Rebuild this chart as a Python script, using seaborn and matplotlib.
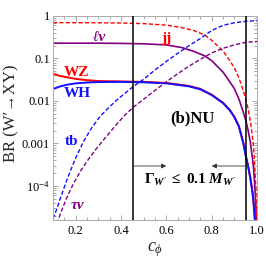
import matplotlib
matplotlib.use("Agg")
import matplotlib.pyplot as plt
from matplotlib.ticker import MultipleLocator, LogLocator, NullFormatter
import seaborn as sns

# branching ratios (x = c_phi)
c_light = [0.10, 0.20, 0.30, 0.40, 0.50, 0.60, 0.67, 0.72, 0.77, 0.80, 0.85, 0.88,
           0.90, 0.92, 0.94, 0.95, 0.96, 0.97, 0.98, 0.985, 0.99, 0.995, 0.999]
br_jj = [0.697, 0.695, 0.692, 0.684, 0.661, 0.610, 0.531, 0.457, 0.355, 0.269, 0.151, 0.0891,
         0.0603, 0.0355, 0.0170, 0.0112, 0.00676, 0.00355, 0.00141, 7.94e-4, 3.16e-4, 8.91e-5, 6.3e-6]
br_lnu = [0.2291, 0.2291, 0.2291, 0.2265, 0.2213, 0.2089, 0.1799, 0.1479, 0.1148, 0.0891, 0.0479, 0.0282,
          0.0195, 0.0112, 0.00537, 0.00355, 0.00214, 0.00112, 4.47e-4, 2.51e-4, 1.05e-4, 3.16e-5, 2.5e-6]

c_boson = [0.10, 0.13, 0.16, 0.20, 0.25, 0.30, 0.40, 0.50, 0.60, 0.70, 0.75, 0.80, 0.85,
           0.88, 0.90, 0.92, 0.94, 0.95, 0.96, 0.97, 0.98, 0.985, 0.99, 0.995, 0.999]
br_wz = [0.0437, 0.0389, 0.0363, 0.0331, 0.0309, 0.0295, 0.0288, 0.0282, 0.0266, 0.0226, 0.0193, 0.0141, 0.00912,
         0.00617, 0.00427, 0.00257, 0.00102, 5.37e-4, 3.09e-4, 1.62e-4, 7.24e-5, 4.07e-5, 1.82e-5, 5.1e-6, 3.2e-7]
br_wh = [0.0191, 0.0219, 0.0240, 0.0260, 0.0272, 0.0279, 0.0282, 0.0275, 0.0260, 0.0221, 0.0188, 0.0138, 0.00891,
         0.00603, 0.00417, 0.00251, 0.00100, 5.25e-4, 3.02e-4, 1.58e-4, 7.08e-5, 3.98e-5, 1.78e-5, 5.0e-6, 3.2e-7]

c_tb = [0.10, 0.116, 0.13, 0.145, 0.16, 0.18, 0.205, 0.235, 0.27, 0.307, 0.345, 0.381, 0.42,
        0.454, 0.50, 0.55, 0.60, 0.65, 0.70, 0.75, 0.80, 0.85, 0.90, 0.95, 1.00]
br_tb = [1.7e-5, 2.8e-5, 4.7e-5, 7.9e-5, 1.32e-4, 2.5e-4, 5.2e-4, 1.12e-3, 2.3e-3, 4.3e-3, 6.9e-3, 0.0105, 0.0155,
         0.0219, 0.0324, 0.0537, 0.0851, 0.132, 0.200, 0.295, 0.457, 0.603, 0.692, 0.750, 0.776]

c_taunu = [0.118, 0.135, 0.15, 0.165, 0.19, 0.22, 0.25, 0.29, 0.33, 0.38, 0.42, 0.454,
           0.50, 0.55, 0.60, 0.65, 0.70, 0.75, 0.80, 0.85, 0.90, 0.95, 1.00]
br_taunu = [1.3e-5, 2.4e-5, 3.8e-5, 6.0e-5, 1.12e-4, 2.19e-4, 3.8e-4, 7.4e-4, 1.35e-3, 2.8e-3, 4.8e-3, 7.1e-3,
            0.011, 0.0178, 0.0282, 0.0437, 0.066, 0.0955, 0.135, 0.174, 0.209, 0.240, 0.251]

# Gamma_W' <= 0.1 M_W' window
width_limits = [0.455, 0.95]
arrow_tips = [0.60, 0.80]
arrow_level = 2.95e-4

x_ticks = [0.2, 0.4, 0.6, 0.8, 1.0]
x_tick_labels = ['0.2', '0.4', '0.6', '0.8', '1.0']
y_ticks = [1e-4, 1e-3, 1e-2, 1e-1, 1]
y_tick_labels = [r'$10^{-4}$', '0.001', '0.01', '0.1', '1']

RED = '#ff0000'
BLUE = '#1010ff'
PURPLE = '#800080'
DASH = (0, (3, 1.6))

sns.set_style('ticks')
plt.rcParams['font.family'] = ['Liberation Serif', 'DejaVu Serif']
plt.rcParams['mathtext.fontset'] = 'custom'
plt.rcParams['mathtext.rm'] = 'Liberation Serif'
plt.rcParams['mathtext.it'] = 'Liberation Serif:italic'
plt.rcParams['mathtext.bf'] = 'Liberation Serif:bold'
plt.rcParams['mathtext.bfit'] = 'Liberation Serif:italic:bold'

fig = plt.figure(figsize=(2.66, 2.66), dpi=100)
ax = fig.add_axes([53 / 266, 46 / 266, 204 / 266, 204 / 266])

curves = [
    (c_boson, br_wz, RED, '-', 1.4),
    (c_boson, br_wh, BLUE, '-', 1.4),
    (c_light, br_lnu, PURPLE, '-', 1.2),
    (c_light, br_jj, RED, DASH, 1.0),
    (c_tb, br_tb, BLUE, DASH, 1.0),
    (c_taunu, br_taunu, PURPLE, DASH, 1.0),
]
for xs, ys, col, ls, lw in curves:
    sns.lineplot(x=xs, y=ys, ax=ax, color=col, linestyle=ls, linewidth=lw,
                 estimator=None, legend=False)

for c in width_limits:
    ax.axvline(c, color='black', linewidth=1.1, zorder=3)
for start, tip in zip(width_limits, arrow_tips):
    ax.annotate('', xy=(tip, arrow_level), xytext=(start, arrow_level),
                arrowprops=dict(arrowstyle='-|>', color='#333333', lw=0.6,
                                mutation_scale=7, shrinkA=0, shrinkB=0))

ax.set_yscale('log')
ax.set_xlim(0.1, 1.0)
ax.set_ylim(1.58e-5, 1.0)
ax.set_xticks(x_ticks)
ax.set_xticklabels(x_tick_labels)
ax.xaxis.set_minor_locator(MultipleLocator(0.05))
ax.set_yticks(y_ticks)
ax.set_yticklabels(y_tick_labels)
ax.yaxis.set_minor_locator(LogLocator(base=10, subs=range(2, 10)))
ax.yaxis.set_minor_formatter(NullFormatter())
ax.tick_params(which='both', direction='in', top=True, right=True,
               color='#999999', labelcolor='black', labelsize=9, width=0.6)
ax.tick_params(which='major', length=3.5)
ax.tick_params(which='minor', length=2)
ax.tick_params(axis='y', pad=2)
ax.tick_params(axis='x', pad=3.5)
for sp in ax.spines.values():
    sp.set_color('#aaaaaa')
    sp.set_linewidth(0.7)

ax.set_ylabel('BR (W′→XY)', fontsize=12)
ax.yaxis.set_label_coords(-0.167, 0.525)
ax.set_xlabel(r'$c_{\phi}$', fontsize=13)
ax.xaxis.set_label_coords(0.5, -0.10)

lab = dict(fontweight='bold', ha='center', va='center', fontsize=11)
ax.text(0.307, 0.32, 'ℓν', color=PURPLE, fontstyle='italic', **lab)
ax.text(0.598, 0.30, 'jj', color=RED, **lab)
ax.text(0.206, 0.048, 'WZ', color=RED, **lab)
ax.text(0.206, 0.0152, 'WH', color=BLUE, **lab)
ax.text(0.183, 1.1e-3, 'tb', color=BLUE, **lab)
ax.text(0.206, 3.5e-5, 'τν', color=PURPLE, fontstyle='italic', **lab)
ax.text(0.713, 3.9e-3, '(b)NU', color='black', fontweight='bold', ha='center', va='center', fontsize=12)
ax.text(0.705, 1.38e-4, r"$\mathbf{\Gamma}_{\mathbfit{W'}}\ \mathbf{\leq\ 0.1}\ \mathbfit{M}_{\mathbfit{W'}}$",
        color='black', ha='center', va='center', fontsize=11)

fig.savefig('out.png', dpi=100)
